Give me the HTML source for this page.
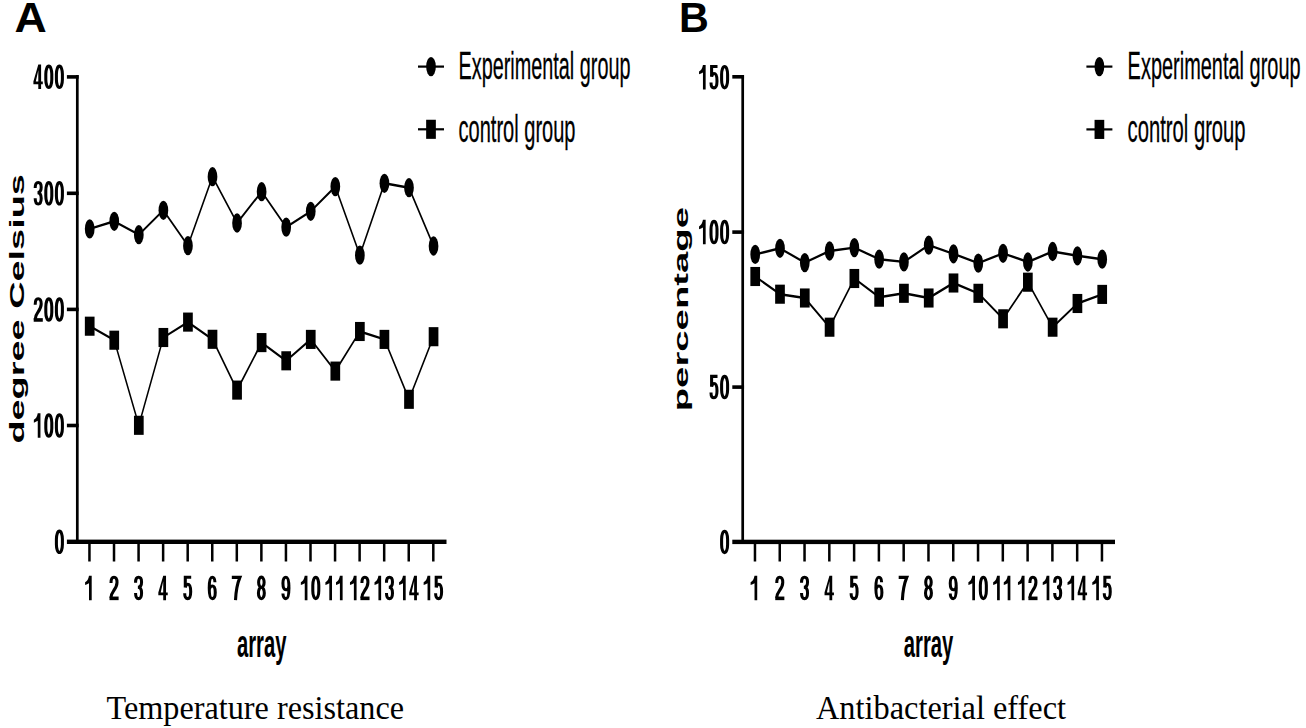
<!DOCTYPE html>
<html><head><meta charset="utf-8"><style>
html,body{margin:0;padding:0;background:#fff;width:1306px;height:728px;overflow:hidden}
svg{display:block}
text{font-family:"Liberation Sans",sans-serif}
.serif{font-family:"Liberation Serif",serif}
</style></head><body>
<svg width="1306" height="728" viewBox="0 0 1306 728">
<rect width="1306" height="728" fill="#fff"/>
<g fill="#000">
<text transform="translate(14.6,32.3) scale(1.035,1)" font-size="43.2" font-weight="bold">A</text><text transform="translate(678.9,32.3) scale(0.965,1)" font-size="42.8" font-weight="bold">B</text><rect x="75.95" y="75.0" width="2.7" height="466.79999999999995"/><rect x="66.9" y="75.10000000000001" width="11.749999999999986" height="3.6"/><rect x="66.9" y="191.5" width="11.749999999999986" height="3.6"/><rect x="66.9" y="307.59999999999997" width="11.749999999999986" height="3.6"/><rect x="66.9" y="423.7" width="11.749999999999986" height="3.6"/><rect x="66.9" y="539.5999999999999" width="379.6" height="4.4"/><rect x="88.20" y="541.8" width="2.5" height="19.700000000000045"/><rect x="112.76" y="541.8" width="2.5" height="19.700000000000045"/><rect x="137.32" y="541.8" width="2.5" height="19.700000000000045"/><rect x="161.88" y="541.8" width="2.5" height="19.700000000000045"/><rect x="186.44" y="541.8" width="2.5" height="19.700000000000045"/><rect x="211.00" y="541.8" width="2.5" height="19.700000000000045"/><rect x="235.56" y="541.8" width="2.5" height="19.700000000000045"/><rect x="260.12" y="541.8" width="2.5" height="19.700000000000045"/><rect x="284.69" y="541.8" width="2.5" height="19.700000000000045"/><rect x="309.25" y="541.8" width="2.5" height="19.700000000000045"/><rect x="333.81" y="541.8" width="2.5" height="19.700000000000045"/><rect x="358.37" y="541.8" width="2.5" height="19.700000000000045"/><rect x="382.93" y="541.8" width="2.5" height="19.700000000000045"/><rect x="407.49" y="541.8" width="2.5" height="19.700000000000045"/><rect x="432.05" y="541.8" width="2.5" height="19.700000000000045"/><rect x="741.35" y="75.3" width="2.7" height="466.59999999999997"/><rect x="732.3" y="75.0" width="11.750000000000114" height="3.6"/><rect x="732.3" y="230.29999999999998" width="11.750000000000114" height="3.6"/><rect x="732.3" y="385.3" width="11.750000000000114" height="3.6"/><rect x="732.3" y="539.6999999999999" width="382.70000000000005" height="4.4"/><rect x="753.72" y="541.9" width="2.5" height="19.600000000000023"/><rect x="778.50" y="541.9" width="2.5" height="19.600000000000023"/><rect x="803.29" y="541.9" width="2.5" height="19.600000000000023"/><rect x="828.08" y="541.9" width="2.5" height="19.600000000000023"/><rect x="852.86" y="541.9" width="2.5" height="19.600000000000023"/><rect x="877.64" y="541.9" width="2.5" height="19.600000000000023"/><rect x="902.43" y="541.9" width="2.5" height="19.600000000000023"/><rect x="927.22" y="541.9" width="2.5" height="19.600000000000023"/><rect x="952.00" y="541.9" width="2.5" height="19.600000000000023"/><rect x="976.79" y="541.9" width="2.5" height="19.600000000000023"/><rect x="1001.57" y="541.9" width="2.5" height="19.600000000000023"/><rect x="1026.36" y="541.9" width="2.5" height="19.600000000000023"/><rect x="1051.14" y="541.9" width="2.5" height="19.600000000000023"/><rect x="1075.92" y="541.9" width="2.5" height="19.600000000000023"/><rect x="1100.71" y="541.9" width="2.5" height="19.600000000000023"/><g transform="scale(0.6,1)"><polyline points="149.5,228.9 190.433,221.3 231.367,234.7 272.3,210.3 313.233,245.7 354.167,176.7 395.1,223 436.033,191.7 476.983,227.1 517.917,211.3 558.85,186.6 599.783,255.2 640.717,183.3 681.65,187.7 722.583,246" fill="none" stroke="#000" stroke-width="2.4" stroke-linejoin="round"/><polyline points="149.5,326.2 190.433,340.2 231.367,425.3 272.3,337.5 313.233,322.1 354.167,339.3 395.1,390.1 436.033,342.6 476.983,360.8 517.917,339.4 558.85,371.1 599.783,331.5 640.717,339.4 681.65,399.3 722.583,336.7" fill="none" stroke="#000" stroke-width="2.4" stroke-linejoin="round"/><polyline points="1258.7,254.4 1300.0,248.3 1341.317,262.6 1382.633,251 1423.933,247.6 1465.233,259.2 1506.55,261.9 1547.867,245.2 1589.167,253.8 1630.483,263.1 1671.783,253.3 1713.1,262 1754.4,251.5 1795.7,255.8 1837.017,259.2" fill="none" stroke="#000" stroke-width="2.4" stroke-linejoin="round"/><polyline points="1258.7,276.5 1300.0,294.2 1341.317,298 1382.633,327.2 1423.933,278.5 1465.233,297.2 1506.55,293.3 1547.867,298 1589.167,283 1630.483,293.3 1671.783,318.8 1713.1,282.2 1754.4,327.2 1795.7,303.5 1837.017,294.4" fill="none" stroke="#000" stroke-width="2.4" stroke-linejoin="round"/></g><ellipse cx="89.7" cy="228.9" rx="4.85" ry="9.65"/><ellipse cx="114.26" cy="221.3" rx="4.85" ry="9.65"/><ellipse cx="138.82" cy="234.7" rx="4.85" ry="9.65"/><ellipse cx="163.38" cy="210.3" rx="4.85" ry="9.65"/><ellipse cx="187.94" cy="245.7" rx="4.85" ry="9.65"/><ellipse cx="212.5" cy="176.7" rx="4.85" ry="9.65"/><ellipse cx="237.06" cy="223" rx="4.85" ry="9.65"/><ellipse cx="261.62" cy="191.7" rx="4.85" ry="9.65"/><ellipse cx="286.19" cy="227.1" rx="4.85" ry="9.65"/><ellipse cx="310.75" cy="211.3" rx="4.85" ry="9.65"/><ellipse cx="335.31" cy="186.6" rx="4.85" ry="9.65"/><ellipse cx="359.87" cy="255.2" rx="4.85" ry="9.65"/><ellipse cx="384.43" cy="183.3" rx="4.85" ry="9.65"/><ellipse cx="408.99" cy="187.7" rx="4.85" ry="9.65"/><ellipse cx="433.55" cy="246" rx="4.85" ry="9.65"/><rect x="84.85" y="316.65" width="9.7" height="19.1"/><rect x="109.41" y="330.65" width="9.7" height="19.1"/><rect x="133.97" y="415.75" width="9.7" height="19.1"/><rect x="158.53" y="327.95" width="9.7" height="19.1"/><rect x="183.09" y="312.55" width="9.7" height="19.1"/><rect x="207.65" y="329.75" width="9.7" height="19.1"/><rect x="232.21" y="380.55" width="9.7" height="19.1"/><rect x="256.77" y="333.05" width="9.7" height="19.1"/><rect x="281.34" y="351.25" width="9.7" height="19.1"/><rect x="305.90" y="329.85" width="9.7" height="19.1"/><rect x="330.46" y="361.55" width="9.7" height="19.1"/><rect x="355.02" y="321.95" width="9.7" height="19.1"/><rect x="379.58" y="329.85" width="9.7" height="19.1"/><rect x="404.14" y="389.75" width="9.7" height="19.1"/><rect x="428.70" y="327.15" width="9.7" height="19.1"/><ellipse cx="755.22" cy="254.4" rx="4.85" ry="9.65"/><ellipse cx="780.0" cy="248.3" rx="4.85" ry="9.65"/><ellipse cx="804.79" cy="262.6" rx="4.85" ry="9.65"/><ellipse cx="829.58" cy="251" rx="4.85" ry="9.65"/><ellipse cx="854.36" cy="247.6" rx="4.85" ry="9.65"/><ellipse cx="879.14" cy="259.2" rx="4.85" ry="9.65"/><ellipse cx="903.93" cy="261.9" rx="4.85" ry="9.65"/><ellipse cx="928.72" cy="245.2" rx="4.85" ry="9.65"/><ellipse cx="953.5" cy="253.8" rx="4.85" ry="9.65"/><ellipse cx="978.29" cy="263.1" rx="4.85" ry="9.65"/><ellipse cx="1003.07" cy="253.3" rx="4.85" ry="9.65"/><ellipse cx="1027.86" cy="262" rx="4.85" ry="9.65"/><ellipse cx="1052.64" cy="251.5" rx="4.85" ry="9.65"/><ellipse cx="1077.42" cy="255.8" rx="4.85" ry="9.65"/><ellipse cx="1102.21" cy="259.2" rx="4.85" ry="9.65"/><rect x="750.37" y="266.95" width="9.7" height="19.1"/><rect x="775.15" y="284.65" width="9.7" height="19.1"/><rect x="799.94" y="288.45" width="9.7" height="19.1"/><rect x="824.73" y="317.65" width="9.7" height="19.1"/><rect x="849.51" y="268.95" width="9.7" height="19.1"/><rect x="874.29" y="287.65" width="9.7" height="19.1"/><rect x="899.08" y="283.75" width="9.7" height="19.1"/><rect x="923.87" y="288.45" width="9.7" height="19.1"/><rect x="948.65" y="273.45" width="9.7" height="19.1"/><rect x="973.44" y="283.75" width="9.7" height="19.1"/><rect x="998.22" y="309.25" width="9.7" height="19.1"/><rect x="1023.01" y="272.65" width="9.7" height="19.1"/><rect x="1047.79" y="317.65" width="9.7" height="19.1"/><rect x="1072.57" y="293.95" width="9.7" height="19.1"/><rect x="1097.36" y="284.85" width="9.7" height="19.1"/><rect x="418" y="65.5" width="26" height="2.2"/><ellipse cx="431" cy="66.6" rx="4.85" ry="9.65"/><rect x="418" y="128.20000000000002" width="26" height="2.2"/><rect x="426.15" y="119.75000000000001" width="9.7" height="19.1"/><text x="458.5" y="78.6" font-size="39.2" stroke="#000" stroke-width="0.3" textLength="172" lengthAdjust="spacingAndGlyphs">Experimental group</text><text x="458.5" y="141.9" font-size="39.2" stroke="#000" stroke-width="0.3" textLength="117" lengthAdjust="spacingAndGlyphs">control group</text><rect x="1086.4" y="65.5" width="26" height="2.2"/><ellipse cx="1099.4" cy="66.6" rx="4.85" ry="9.65"/><rect x="1086.4" y="128.3" width="26" height="2.2"/><rect x="1094.5500000000002" y="119.85000000000001" width="9.7" height="19.1"/><text x="1127.6" y="78.6" font-size="39.2" stroke="#000" stroke-width="0.3" textLength="173" lengthAdjust="spacingAndGlyphs">Experimental group</text><text x="1127.6" y="141.9" font-size="39.2" stroke="#000" stroke-width="0.3" textLength="118" lengthAdjust="spacingAndGlyphs">control group</text><g transform="translate(32.90,64.60)"><path fill-rule="evenodd" fill="#000" d="M5.4,0 H8.2 V16.9 H9.9 V19.7 H8.2 V24.5 H5.4 V19.7 H0.5 V16.9 Z M5.4,5.6 L2.9,16.9 H5.4 Z"/></g><g transform="translate(43.50,64.60)"><rect x="2.3" y="1.52" width="6.00" height="21.46" rx="3.05" ry="8" fill="none" stroke="#000" stroke-width="3.05"/></g><g transform="translate(54.10,64.60)"><rect x="2.3" y="1.52" width="6.00" height="21.46" rx="3.05" ry="8" fill="none" stroke="#000" stroke-width="3.05"/></g><g transform="translate(32.90,181.05)"><path d="M2.3,7.0 C2.3,2.9 3.4,1.52 5.3,1.52 C7.2,1.52 8.3,2.9 8.3,6.3 C8.3,9.6 7.2,11.6 4.6,11.6 C7.2,11.6 8.3,13.6 8.3,17.3 C8.3,21.3 7.3,22.98 5.3,22.98 C3.3,22.98 2.3,21.3 2.3,17.3" fill="none" stroke="#000" stroke-width="3.05"/></g><g transform="translate(43.50,181.05)"><rect x="2.3" y="1.52" width="6.00" height="21.46" rx="3.05" ry="8" fill="none" stroke="#000" stroke-width="3.05"/></g><g transform="translate(54.10,181.05)"><rect x="2.3" y="1.52" width="6.00" height="21.46" rx="3.05" ry="8" fill="none" stroke="#000" stroke-width="3.05"/></g><g transform="translate(32.90,297.25)"><path d="M2.3,7.4 C2.3,3.0 3.4,1.52 5.3,1.52 C7.2,1.52 8.3,3.0 8.3,6.8 C8.3,10.6 6.8,12.6 4.9,15.2 C3.4,17.2 2.3,19.6 2.3,22.2" fill="none" stroke="#000" stroke-width="3.05"/><rect x="0.8" y="20.9" width="9.1" height="3.6"/></g><g transform="translate(43.50,297.25)"><rect x="2.3" y="1.52" width="6.00" height="21.46" rx="3.05" ry="8" fill="none" stroke="#000" stroke-width="3.05"/></g><g transform="translate(54.10,297.25)"><rect x="2.3" y="1.52" width="6.00" height="21.46" rx="3.05" ry="8" fill="none" stroke="#000" stroke-width="3.05"/></g><g transform="translate(32.90,413.25)"><path d="M4.85,24.5 V7.6 C3.6,8.3 2.4,8.9 0.95,9.4 V6.6 C2.9,5.5 4.3,3.4 4.85,0 H7.55 V24.5 Z" fill="#000"/></g><g transform="translate(43.50,413.25)"><rect x="2.3" y="1.52" width="6.00" height="21.46" rx="3.05" ry="8" fill="none" stroke="#000" stroke-width="3.05"/></g><g transform="translate(54.10,413.25)"><rect x="2.3" y="1.52" width="6.00" height="21.46" rx="3.05" ry="8" fill="none" stroke="#000" stroke-width="3.05"/></g><g transform="translate(54.10,529.55)"><rect x="2.3" y="1.52" width="6.00" height="21.46" rx="3.05" ry="8" fill="none" stroke="#000" stroke-width="3.05"/></g><g transform="translate(698.10,64.90)"><path d="M4.85,24.5 V7.6 C3.6,8.3 2.4,8.9 0.95,9.4 V6.6 C2.9,5.5 4.3,3.4 4.85,0 H7.55 V24.5 Z" fill="#000"/></g><g transform="translate(708.70,64.90)"><path d="M8.8,1.52 H2.9 V11.8" fill="none" stroke="#000" stroke-width="3.05" stroke-linejoin="miter"/><path d="M2.9,11.4 C3.6,9.9 4.4,8.6 5.3,8.6 C7.4,8.6 8.3,11.4 8.3,16.0 C8.3,21.0 7.3,22.98 5.3,22.98 C3.3,22.98 2.3,21.2 2.3,17.6" fill="none" stroke="#000" stroke-width="3.05"/></g><g transform="translate(719.30,64.90)"><rect x="2.3" y="1.52" width="6.00" height="21.46" rx="3.05" ry="8" fill="none" stroke="#000" stroke-width="3.05"/></g><g transform="translate(698.10,219.85)"><path d="M4.85,24.5 V7.6 C3.6,8.3 2.4,8.9 0.95,9.4 V6.6 C2.9,5.5 4.3,3.4 4.85,0 H7.55 V24.5 Z" fill="#000"/></g><g transform="translate(708.70,219.85)"><rect x="2.3" y="1.52" width="6.00" height="21.46" rx="3.05" ry="8" fill="none" stroke="#000" stroke-width="3.05"/></g><g transform="translate(719.30,219.85)"><rect x="2.3" y="1.52" width="6.00" height="21.46" rx="3.05" ry="8" fill="none" stroke="#000" stroke-width="3.05"/></g><g transform="translate(708.70,374.85)"><path d="M8.8,1.52 H2.9 V11.8" fill="none" stroke="#000" stroke-width="3.05" stroke-linejoin="miter"/><path d="M2.9,11.4 C3.6,9.9 4.4,8.6 5.3,8.6 C7.4,8.6 8.3,11.4 8.3,16.0 C8.3,21.0 7.3,22.98 5.3,22.98 C3.3,22.98 2.3,21.2 2.3,17.6" fill="none" stroke="#000" stroke-width="3.05"/></g><g transform="translate(719.30,374.85)"><rect x="2.3" y="1.52" width="6.00" height="21.46" rx="3.05" ry="8" fill="none" stroke="#000" stroke-width="3.05"/></g><g transform="translate(719.30,529.65)"><rect x="2.3" y="1.52" width="6.00" height="21.46" rx="3.05" ry="8" fill="none" stroke="#000" stroke-width="3.05"/></g><g transform="translate(84.15,575.65)"><path d="M4.85,24.5 V7.6 C3.6,8.3 2.4,8.9 0.95,9.4 V6.6 C2.9,5.5 4.3,3.4 4.85,0 H7.55 V24.5 Z" fill="#000"/></g><g transform="translate(108.71,575.65)"><path d="M2.3,7.4 C2.3,3.0 3.4,1.52 5.3,1.52 C7.2,1.52 8.3,3.0 8.3,6.8 C8.3,10.6 6.8,12.6 4.9,15.2 C3.4,17.2 2.3,19.6 2.3,22.2" fill="none" stroke="#000" stroke-width="3.05"/><rect x="0.8" y="20.9" width="9.1" height="3.6"/></g><g transform="translate(133.27,575.65)"><path d="M2.3,7.0 C2.3,2.9 3.4,1.52 5.3,1.52 C7.2,1.52 8.3,2.9 8.3,6.3 C8.3,9.6 7.2,11.6 4.6,11.6 C7.2,11.6 8.3,13.6 8.3,17.3 C8.3,21.3 7.3,22.98 5.3,22.98 C3.3,22.98 2.3,21.3 2.3,17.3" fill="none" stroke="#000" stroke-width="3.05"/></g><g transform="translate(157.83,575.65)"><path fill-rule="evenodd" fill="#000" d="M5.4,0 H8.2 V16.9 H9.9 V19.7 H8.2 V24.5 H5.4 V19.7 H0.5 V16.9 Z M5.4,5.6 L2.9,16.9 H5.4 Z"/></g><g transform="translate(182.39,575.65)"><path d="M8.8,1.52 H2.9 V11.8" fill="none" stroke="#000" stroke-width="3.05" stroke-linejoin="miter"/><path d="M2.9,11.4 C3.6,9.9 4.4,8.6 5.3,8.6 C7.4,8.6 8.3,11.4 8.3,16.0 C8.3,21.0 7.3,22.98 5.3,22.98 C3.3,22.98 2.3,21.2 2.3,17.6" fill="none" stroke="#000" stroke-width="3.05"/></g><g transform="translate(206.95,575.65)"><path d="M8.0,6.6 C7.9,3.0 6.9,1.52 5.3,1.52 C3.2,1.52 2.3,4.6 2.3,12.25 C2.3,20.6 3.3,22.98 5.3,22.98 C7.3,22.98 8.3,20.8 8.3,16.8 C8.3,12.6 7.3,10.4 5.3,10.4 C3.6,10.4 2.3,12.2 2.3,14.6" fill="none" stroke="#000" stroke-width="3.05"/></g><g transform="translate(231.51,575.65)"><path d="M0.3,1.7 H8.4 C6.0,7.5 4.4,14.5 4.0,24.5" fill="none" stroke="#000" stroke-width="3.1" stroke-linejoin="miter"/></g><g transform="translate(256.07,575.65)"><ellipse cx="5.3" cy="6.6" rx="2.75" ry="5.15" fill="none" stroke="#000" stroke-width="3.05"/><ellipse cx="5.3" cy="17.35" rx="2.95" ry="5.7" fill="none" stroke="#000" stroke-width="3.05"/></g><g transform="translate(280.64,575.65)"><path d="M2.3,17.9 C2.4,21.5 3.7,22.98 5.3,22.98 C7.4,22.98 8.3,19.9 8.3,12.25 C8.3,3.9 7.3,1.52 5.3,1.52 C3.3,1.52 2.3,3.7 2.3,7.7 C2.3,11.9 3.3,14.1 5.3,14.1 C7.0,14.1 8.3,12.3 8.3,9.9" fill="none" stroke="#000" stroke-width="3.05"/></g><g transform="translate(299.90,575.65)"><path d="M4.85,24.5 V7.6 C3.6,8.3 2.4,8.9 0.95,9.4 V6.6 C2.9,5.5 4.3,3.4 4.85,0 H7.55 V24.5 Z" fill="#000"/></g><g transform="translate(310.50,575.65)"><rect x="2.3" y="1.52" width="6.00" height="21.46" rx="3.05" ry="8" fill="none" stroke="#000" stroke-width="3.05"/></g><g transform="translate(324.46,575.65)"><path d="M4.85,24.5 V7.6 C3.6,8.3 2.4,8.9 0.95,9.4 V6.6 C2.9,5.5 4.3,3.4 4.85,0 H7.55 V24.5 Z" fill="#000"/></g><g transform="translate(335.06,575.65)"><path d="M4.85,24.5 V7.6 C3.6,8.3 2.4,8.9 0.95,9.4 V6.6 C2.9,5.5 4.3,3.4 4.85,0 H7.55 V24.5 Z" fill="#000"/></g><g transform="translate(349.02,575.65)"><path d="M4.85,24.5 V7.6 C3.6,8.3 2.4,8.9 0.95,9.4 V6.6 C2.9,5.5 4.3,3.4 4.85,0 H7.55 V24.5 Z" fill="#000"/></g><g transform="translate(359.62,575.65)"><path d="M2.3,7.4 C2.3,3.0 3.4,1.52 5.3,1.52 C7.2,1.52 8.3,3.0 8.3,6.8 C8.3,10.6 6.8,12.6 4.9,15.2 C3.4,17.2 2.3,19.6 2.3,22.2" fill="none" stroke="#000" stroke-width="3.05"/><rect x="0.8" y="20.9" width="9.1" height="3.6"/></g><g transform="translate(373.58,575.65)"><path d="M4.85,24.5 V7.6 C3.6,8.3 2.4,8.9 0.95,9.4 V6.6 C2.9,5.5 4.3,3.4 4.85,0 H7.55 V24.5 Z" fill="#000"/></g><g transform="translate(384.18,575.65)"><path d="M2.3,7.0 C2.3,2.9 3.4,1.52 5.3,1.52 C7.2,1.52 8.3,2.9 8.3,6.3 C8.3,9.6 7.2,11.6 4.6,11.6 C7.2,11.6 8.3,13.6 8.3,17.3 C8.3,21.3 7.3,22.98 5.3,22.98 C3.3,22.98 2.3,21.3 2.3,17.3" fill="none" stroke="#000" stroke-width="3.05"/></g><g transform="translate(398.14,575.65)"><path d="M4.85,24.5 V7.6 C3.6,8.3 2.4,8.9 0.95,9.4 V6.6 C2.9,5.5 4.3,3.4 4.85,0 H7.55 V24.5 Z" fill="#000"/></g><g transform="translate(408.74,575.65)"><path fill-rule="evenodd" fill="#000" d="M5.4,0 H8.2 V16.9 H9.9 V19.7 H8.2 V24.5 H5.4 V19.7 H0.5 V16.9 Z M5.4,5.6 L2.9,16.9 H5.4 Z"/></g><g transform="translate(422.70,575.65)"><path d="M4.85,24.5 V7.6 C3.6,8.3 2.4,8.9 0.95,9.4 V6.6 C2.9,5.5 4.3,3.4 4.85,0 H7.55 V24.5 Z" fill="#000"/></g><g transform="translate(433.30,575.65)"><path d="M8.8,1.52 H2.9 V11.8" fill="none" stroke="#000" stroke-width="3.05" stroke-linejoin="miter"/><path d="M2.9,11.4 C3.6,9.9 4.4,8.6 5.3,8.6 C7.4,8.6 8.3,11.4 8.3,16.0 C8.3,21.0 7.3,22.98 5.3,22.98 C3.3,22.98 2.3,21.2 2.3,17.6" fill="none" stroke="#000" stroke-width="3.05"/></g><g transform="translate(749.67,575.65)"><path d="M4.85,24.5 V7.6 C3.6,8.3 2.4,8.9 0.95,9.4 V6.6 C2.9,5.5 4.3,3.4 4.85,0 H7.55 V24.5 Z" fill="#000"/></g><g transform="translate(774.46,575.65)"><path d="M2.3,7.4 C2.3,3.0 3.4,1.52 5.3,1.52 C7.2,1.52 8.3,3.0 8.3,6.8 C8.3,10.6 6.8,12.6 4.9,15.2 C3.4,17.2 2.3,19.6 2.3,22.2" fill="none" stroke="#000" stroke-width="3.05"/><rect x="0.8" y="20.9" width="9.1" height="3.6"/></g><g transform="translate(799.24,575.65)"><path d="M2.3,7.0 C2.3,2.9 3.4,1.52 5.3,1.52 C7.2,1.52 8.3,2.9 8.3,6.3 C8.3,9.6 7.2,11.6 4.6,11.6 C7.2,11.6 8.3,13.6 8.3,17.3 C8.3,21.3 7.3,22.98 5.3,22.98 C3.3,22.98 2.3,21.3 2.3,17.3" fill="none" stroke="#000" stroke-width="3.05"/></g><g transform="translate(824.03,575.65)"><path fill-rule="evenodd" fill="#000" d="M5.4,0 H8.2 V16.9 H9.9 V19.7 H8.2 V24.5 H5.4 V19.7 H0.5 V16.9 Z M5.4,5.6 L2.9,16.9 H5.4 Z"/></g><g transform="translate(848.81,575.65)"><path d="M8.8,1.52 H2.9 V11.8" fill="none" stroke="#000" stroke-width="3.05" stroke-linejoin="miter"/><path d="M2.9,11.4 C3.6,9.9 4.4,8.6 5.3,8.6 C7.4,8.6 8.3,11.4 8.3,16.0 C8.3,21.0 7.3,22.98 5.3,22.98 C3.3,22.98 2.3,21.2 2.3,17.6" fill="none" stroke="#000" stroke-width="3.05"/></g><g transform="translate(873.60,575.65)"><path d="M8.0,6.6 C7.9,3.0 6.9,1.52 5.3,1.52 C3.2,1.52 2.3,4.6 2.3,12.25 C2.3,20.6 3.3,22.98 5.3,22.98 C7.3,22.98 8.3,20.8 8.3,16.8 C8.3,12.6 7.3,10.4 5.3,10.4 C3.6,10.4 2.3,12.2 2.3,14.6" fill="none" stroke="#000" stroke-width="3.05"/></g><g transform="translate(898.38,575.65)"><path d="M0.3,1.7 H8.4 C6.0,7.5 4.4,14.5 4.0,24.5" fill="none" stroke="#000" stroke-width="3.1" stroke-linejoin="miter"/></g><g transform="translate(923.17,575.65)"><ellipse cx="5.3" cy="6.6" rx="2.75" ry="5.15" fill="none" stroke="#000" stroke-width="3.05"/><ellipse cx="5.3" cy="17.35" rx="2.95" ry="5.7" fill="none" stroke="#000" stroke-width="3.05"/></g><g transform="translate(947.95,575.65)"><path d="M2.3,17.9 C2.4,21.5 3.7,22.98 5.3,22.98 C7.4,22.98 8.3,19.9 8.3,12.25 C8.3,3.9 7.3,1.52 5.3,1.52 C3.3,1.52 2.3,3.7 2.3,7.7 C2.3,11.9 3.3,14.1 5.3,14.1 C7.0,14.1 8.3,12.3 8.3,9.9" fill="none" stroke="#000" stroke-width="3.05"/></g><g transform="translate(967.44,575.65)"><path d="M4.85,24.5 V7.6 C3.6,8.3 2.4,8.9 0.95,9.4 V6.6 C2.9,5.5 4.3,3.4 4.85,0 H7.55 V24.5 Z" fill="#000"/></g><g transform="translate(978.04,575.65)"><rect x="2.3" y="1.52" width="6.00" height="21.46" rx="3.05" ry="8" fill="none" stroke="#000" stroke-width="3.05"/></g><g transform="translate(992.22,575.65)"><path d="M4.85,24.5 V7.6 C3.6,8.3 2.4,8.9 0.95,9.4 V6.6 C2.9,5.5 4.3,3.4 4.85,0 H7.55 V24.5 Z" fill="#000"/></g><g transform="translate(1002.82,575.65)"><path d="M4.85,24.5 V7.6 C3.6,8.3 2.4,8.9 0.95,9.4 V6.6 C2.9,5.5 4.3,3.4 4.85,0 H7.55 V24.5 Z" fill="#000"/></g><g transform="translate(1017.00,575.65)"><path d="M4.85,24.5 V7.6 C3.6,8.3 2.4,8.9 0.95,9.4 V6.6 C2.9,5.5 4.3,3.4 4.85,0 H7.55 V24.5 Z" fill="#000"/></g><g transform="translate(1027.61,575.65)"><path d="M2.3,7.4 C2.3,3.0 3.4,1.52 5.3,1.52 C7.2,1.52 8.3,3.0 8.3,6.8 C8.3,10.6 6.8,12.6 4.9,15.2 C3.4,17.2 2.3,19.6 2.3,22.2" fill="none" stroke="#000" stroke-width="3.05"/><rect x="0.8" y="20.9" width="9.1" height="3.6"/></g><g transform="translate(1041.79,575.65)"><path d="M4.85,24.5 V7.6 C3.6,8.3 2.4,8.9 0.95,9.4 V6.6 C2.9,5.5 4.3,3.4 4.85,0 H7.55 V24.5 Z" fill="#000"/></g><g transform="translate(1052.39,575.65)"><path d="M2.3,7.0 C2.3,2.9 3.4,1.52 5.3,1.52 C7.2,1.52 8.3,2.9 8.3,6.3 C8.3,9.6 7.2,11.6 4.6,11.6 C7.2,11.6 8.3,13.6 8.3,17.3 C8.3,21.3 7.3,22.98 5.3,22.98 C3.3,22.98 2.3,21.3 2.3,17.3" fill="none" stroke="#000" stroke-width="3.05"/></g><g transform="translate(1066.58,575.65)"><path d="M4.85,24.5 V7.6 C3.6,8.3 2.4,8.9 0.95,9.4 V6.6 C2.9,5.5 4.3,3.4 4.85,0 H7.55 V24.5 Z" fill="#000"/></g><g transform="translate(1077.17,575.65)"><path fill-rule="evenodd" fill="#000" d="M5.4,0 H8.2 V16.9 H9.9 V19.7 H8.2 V24.5 H5.4 V19.7 H0.5 V16.9 Z M5.4,5.6 L2.9,16.9 H5.4 Z"/></g><g transform="translate(1091.36,575.65)"><path d="M4.85,24.5 V7.6 C3.6,8.3 2.4,8.9 0.95,9.4 V6.6 C2.9,5.5 4.3,3.4 4.85,0 H7.55 V24.5 Z" fill="#000"/></g><g transform="translate(1101.96,575.65)"><path d="M8.8,1.52 H2.9 V11.8" fill="none" stroke="#000" stroke-width="3.05" stroke-linejoin="miter"/><path d="M2.9,11.4 C3.6,9.9 4.4,8.6 5.3,8.6 C7.4,8.6 8.3,11.4 8.3,16.0 C8.3,21.0 7.3,22.98 5.3,22.98 C3.3,22.98 2.3,21.2 2.3,17.6" fill="none" stroke="#000" stroke-width="3.05"/></g><text x="237" y="657.2" font-size="39" font-weight="bold" textLength="49.5" lengthAdjust="spacingAndGlyphs">array</text><text x="903.8" y="657.2" font-size="39" font-weight="bold" textLength="49.5" lengthAdjust="spacingAndGlyphs">array</text><text transform="translate(23.8,443.6) rotate(-90)" x="0" y="0" font-size="20.5" font-weight="bold" textLength="269.5" lengthAdjust="spacingAndGlyphs">degree Celsius</text><text transform="translate(688.1,411.3) rotate(-90)" x="0" y="0" font-size="20.5" font-weight="bold" textLength="204.4" lengthAdjust="spacingAndGlyphs">percentage</text><text class="serif" x="106.5" y="718.6" font-size="33.5" textLength="297.5" lengthAdjust="spacingAndGlyphs">Temperature resistance</text><text class="serif" x="816" y="718.6" font-size="33.5" textLength="250" lengthAdjust="spacingAndGlyphs">Antibacterial effect</text></g></svg></body></html>
